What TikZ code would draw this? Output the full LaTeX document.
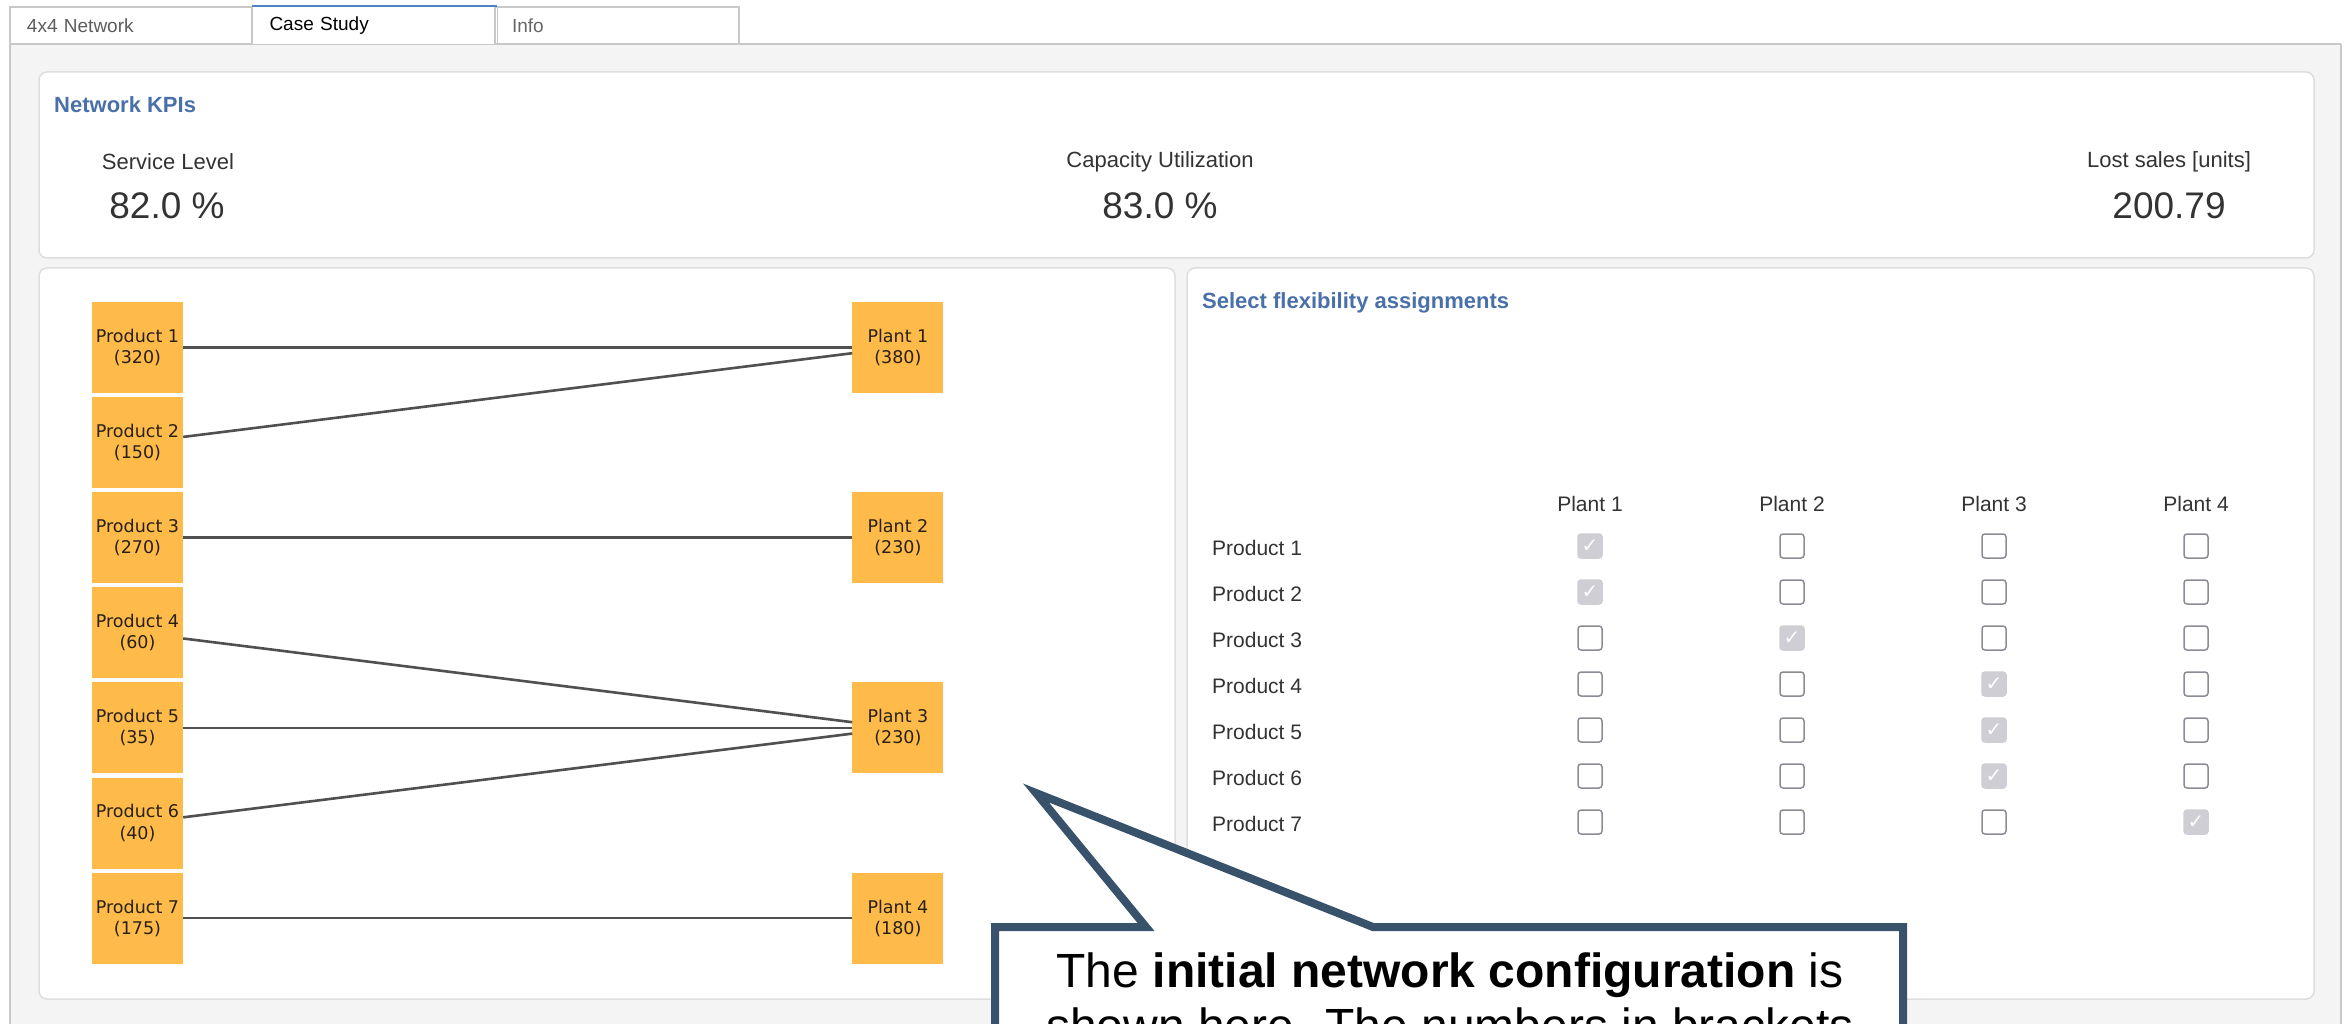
\documentclass[tikz,border=0pt]{standalone}
\usepackage{fontspec}
\setmainfont{Liberation Sans}
\newfontfamily\boxfont{DejaVu Sans}
\usetikzlibrary{positioning}

\definecolor{paneback}{RGB}{244,244,244}
\definecolor{paneline}{RGB}{200,200,200}
\definecolor{cardline}{RGB}{222,222,222}
\definecolor{kpiblue}{RGB}{74,112,170}
\definecolor{tabblue}{RGB}{80,130,200}
\definecolor{boxorange}{RGB}{255,187,74}
\definecolor{boxtext}{RGB}{40,32,20}
\definecolor{linkgray}{RGB}{80,80,80}
\definecolor{labeltext}{RGB}{51,51,51}
\definecolor{boxedge}{RGB}{140,140,150}
\definecolor{tickgray}{RGB}{206,206,212}
\definecolor{calloutblue}{RGB}{57,82,108}

\begin{document}
\begin{tikzpicture}
    [
    x=1pt,y=-1pt,
    tabbox/.style={draw=paneline,fill=white,line width=1.2pt,minimum height=37pt,
      text width=210pt,inner xsep=17pt,inner ysep=0pt,align=left,
      font=\fontsize{19}{19}\selectfont},
    card/.style={draw=cardline,fill=white,rounded corners=8pt,line width=1.5pt},
    heading/.style={anchor=west,inner sep=0pt,text=kpiblue,font=\bfseries\fontsize{22}{22}\selectfont},
    kpilabel/.style={text=labeltext,font=\fontsize{22}{22}\selectfont},
    kpivalue/.style={text=labeltext,font=\fontsize{37}{37}\selectfont},
    product/.style={fill=boxorange,minimum size=91pt,inner sep=0pt,align=center,
      text=boxtext,font=\boxfont\fontsize{17.5}{21}\selectfont},
    link/.style={draw=linkgray,line width=2.6pt},
    rowlabel/.style={anchor=west,inner sep=0pt,text=labeltext,font=\fontsize{21}{21}\selectfont},
    collabel/.style={text=labeltext,font=\fontsize{21}{21}\selectfont},
    tickbox/.style={draw=boxedge,fill=white,rounded corners=3pt,minimum size=24pt,
      inner sep=0pt,line width=1.5pt},
    ticked/.style={tickbox,draw=tickgray,fill=tickgray,text=white,
      font=\boxfont\fontsize{20}{20}\selectfont},
    notebox/.style={draw=calloutblue,fill=white,line width=8pt},
    notetext/.style={anchor=north,inner sep=0pt,align=center,font=\fontsize{48}{55}\selectfont},
    ]
    \useasboundingbox (0,0) rectangle (2351,1024);
    \clip (0,0) rectangle (2351,1024);
    \fill [white] (0,0) rectangle (2351,1024);

    % tab strip and pane
    \fill [paneback] (10,44) rectangle (2341,1040);
    \draw [paneline,line width=1.5pt] (10,1040) -- (10,44) -- (2341,44);
    \draw [paneline,line width=2pt] (2341,44) -- (2341,1040);
    \node (tab1) [tabbox,text=labeltext!80] at (132,25.5) {4x4 Network};
    \node (tab2) [tabbox,draw=none,fill=white,text=black] at (374.5,25.5) {Case Study};
    \node (tab3) [tabbox,text=labeltext!75] at (617,25.5) {Info};
    \draw [paneline,line width=1.2pt] (tab2.south west) -- (tab2.north west);
    \draw [paneline,line width=1.2pt] (tab2.north east) -- (tab2.south east);
    \draw [tabblue,line width=2pt] (tab2.north west) -- (tab2.north east);

    % panels
    \draw [card] (39,72) rectangle (2314,258);
    \draw [card] (39,268) rectangle (1175,999);
    \draw [card] (1187,268) rectangle (2314,999);

    \node (kpis) [heading] at (54,105) {Network KPIs};
    \node (sl) [kpilabel] at (168,162) {Service Level};
    \node (slval) [kpivalue] at (167,206) {82.0 \%};
    \node (cu) [kpilabel] at (1160,162) {Capacity Utilization};
    \node (cuval) [kpivalue] at (1160,206) {83.0 \%};
    \node (ls) [kpilabel] at (2169,162) {Lost sales [units]};
    \node (lsval) [kpivalue] at (2169,206) {200.79};

    % network
    \node (p1) [product] at (137.5,347.5) {Product 1\\(320)};
    \node (p2) [product,below=3.7pt of p1] {Product 2\\(150)};
    \node (p3) [product,below=3.7pt of p2] {Product 3\\(270)};
    \node (p4) [product,below=3.7pt of p3] {Product 4\\(60)};
    \node (p5) [product,below=3.7pt of p4] {Product 5\\(35)};
    \node (p6) [product,below=3.7pt of p5] {Product 6\\(40)};
    \node (p7) [product,below=3.7pt of p6] {Product 7\\(175)};
    \node (q1) [product,right=669pt of p1] {Plant 1\\(380)};
    \node (q2) [product,right=669pt of p3] {Plant 2\\(230)};
    \node (q3) [product,right=669pt of p5] {Plant 3\\(230)};
    \node (q4) [product,right=669pt of p7] {Plant 4\\(180)};
    \draw [link] (p1) to (q1);
    \draw [link] (p2) to (q1);
    \draw [link] (p3) to (q2);
    \draw [link] (p4) to (q3);
    \draw [link] (p5) to (q3);
    \draw [link] (p6) to (q3);
    \draw [link] (p7) to (q4);

    % assignments
    \node (flex) [heading] at (1202,303) {Select flexibility assignments};
    \node (h1) [collabel] at (1590,504) {Plant 1};
    \node (h2) [collabel] at (1792,504) {Plant 2};
    \node (h3) [collabel] at (1994,504) {Plant 3};
    \node (h4) [collabel] at (2196,504) {Plant 4};
    \node (r1) [rowlabel] at (1212,548) {Product 1};
    \node (r2) [rowlabel] at (1212,594) {Product 2};
    \node (r3) [rowlabel] at (1212,640) {Product 3};
    \node (r4) [rowlabel] at (1212,686) {Product 4};
    \node (r5) [rowlabel] at (1212,732) {Product 5};
    \node (r6) [rowlabel] at (1212,778) {Product 6};
    \node (r7) [rowlabel] at (1212,824) {Product 7};
    \node (c11) [ticked] at (1590,546) {✓}; \node (c12) [tickbox] at (1792,546) {};
    \node (c13) [tickbox] at (1994,546) {}; \node (c14) [tickbox] at (2196,546) {};
    \node (c21) [ticked] at (1590,592) {✓}; \node (c22) [tickbox] at (1792,592) {};
    \node (c23) [tickbox] at (1994,592) {}; \node (c24) [tickbox] at (2196,592) {};
    \node (c31) [tickbox] at (1590,638) {}; \node (c32) [ticked] at (1792,638) {✓};
    \node (c33) [tickbox] at (1994,638) {}; \node (c34) [tickbox] at (2196,638) {};
    \node (c41) [tickbox] at (1590,684) {}; \node (c42) [tickbox] at (1792,684) {};
    \node (c43) [ticked] at (1994,684) {✓}; \node (c44) [tickbox] at (2196,684) {};
    \node (c51) [tickbox] at (1590,730) {}; \node (c52) [tickbox] at (1792,730) {};
    \node (c53) [ticked] at (1994,730) {✓}; \node (c54) [tickbox] at (2196,730) {};
    \node (c61) [tickbox] at (1590,776) {}; \node (c62) [tickbox] at (1792,776) {};
    \node (c63) [ticked] at (1994,776) {✓}; \node (c64) [tickbox] at (2196,776) {};
    \node (c71) [tickbox] at (1590,822) {}; \node (c72) [tickbox] at (1792,822) {};
    \node (c73) [tickbox] at (1994,822) {}; \node (c74) [ticked] at (2196,822) {✓};

    % callout
    \draw [notebox] (995,1200) -- (995,927) -- (1146,927) -- (1036,793)
      -- (1373,927) -- (1903,927) -- (1903,1200) -- cycle;
    \node (note) [notetext] at (1450,953)
      {The \textbf{initial network configuration} is\\shown here. The numbers in brackets};
  \end{tikzpicture}
\end{document}
